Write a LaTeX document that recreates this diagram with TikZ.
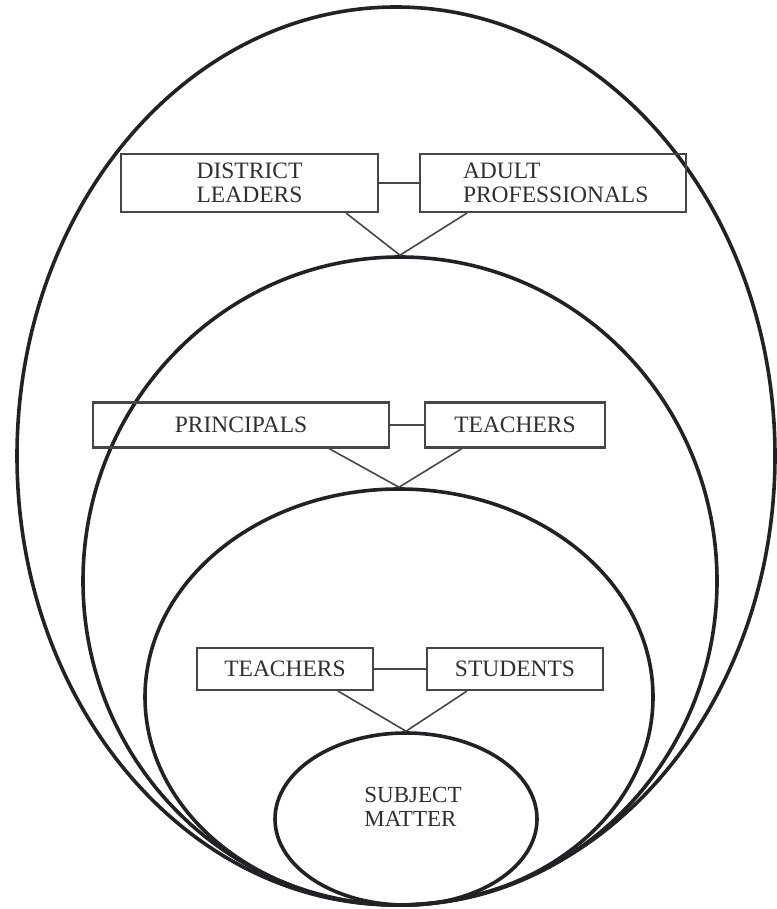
\documentclass[tikz,border=0pt]{standalone}
\usepackage{fontspec}
\setmainfont{Liberation Serif}
\usetikzlibrary{shapes.geometric}
\definecolor{ink}{HTML}{222226}
\definecolor{boxline}{HTML}{46464A}
\definecolor{label}{HTML}{2E2E34}
\begin{document}
\begin{tikzpicture}[x=1pt,y=-1pt,
  ring/.style={draw=ink,line width=3.6pt,ellipse,inner sep=0pt},
  lbox/.style={draw=boxline,line width=2.2pt,rectangle,inner sep=0pt,
    font=\fontsize{23.5}{24}\selectfont,text=label,align=left},
  link/.style={draw=boxline,line width=1.6pt},
  caption/.style={font=\fontsize{23}{23.5}\selectfont,text=label,align=left}]
\useasboundingbox (0,0) rectangle (776,909);

% nested rings, all touching at the bottom
\node[ring,minimum width=758pt,minimum height=898pt] (e1) at (396,456) {};
\node[ring,minimum width=634pt,minimum height=648pt] (e2) at (400,581) {};
\node[ring,minimum width=508pt,minimum height=416pt] (e3) at (399,697) {};
\node[ring,minimum width=262pt,minimum height=172pt] (e4) at (406,819) {};
\node[caption] (sm) at (413,807) {SUBJECT\\MATTER};

% outer level
\node[lbox,minimum width=257pt,minimum height=58pt] (dl) at (249.5,183) {DISTRICT\\LEADERS};
\node[lbox,minimum width=266pt,minimum height=58pt,text width=210pt]
  (ap) at (553,183) {\hspace*{15pt}ADULT\\\hspace*{15pt}PROFESSIONALS};
\draw[link] (dl.east) -- (ap.west);
\draw[link] ([xshift=-33pt]dl.south east) -- (e2.north);
\draw[link] ([xshift=48pt]ap.south west) -- (e2.north);

% middle level
\node[lbox,minimum width=296pt,minimum height=45pt] (pr) at (241,425) {PRINCIPALS};
\node[lbox,minimum width=180pt,minimum height=45pt] (ta) at (515,425) {TEACHERS};
\draw[link] (pr.east) -- (ta.west);
\draw[link] ([xshift=-61pt]pr.south east) -- (e3.north);
\draw[link] ([xshift=38pt]ta.south west) -- (e3.north);

% inner level
\node[lbox,minimum width=176pt,minimum height=42pt] (tb) at (285,669) {TEACHERS};
\node[lbox,minimum width=176pt,minimum height=42pt] (st) at (515,669) {STUDENTS};
\draw[link] (tb.east) -- (st.west);
\draw[link] ([xshift=-36pt]tb.south east) -- (e4.north);
\draw[link] ([xshift=41pt]st.south west) -- (e4.north);
\end{tikzpicture}
\end{document}
